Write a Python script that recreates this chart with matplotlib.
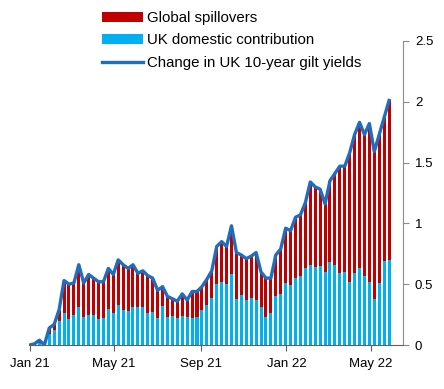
import numpy as np
import pandas as pd
import matplotlib
matplotlib.use('Agg')
import matplotlib.pyplot as plt
import matplotlib.dates as mdates

plt.rcParams['font.family'] = ['Liberation Sans', 'DejaVu Sans']

# weekly observations, first week of Jan 21 to end of May 22
dates = pd.date_range('2021-01-01', periods=74, freq='7D')

# UK domestic contribution (pp)
domestic = [0.00, 0.00, 0.02, 0.00, 0.09, 0.12, 0.20, 0.26, 0.21, 0.25,
            0.31, 0.23, 0.25, 0.25, 0.21, 0.22, 0.30, 0.26, 0.33, 0.29,
            0.28, 0.31, 0.31, 0.31, 0.26, 0.27, 0.22, 0.32, 0.23, 0.24,
            0.22, 0.24, 0.23, 0.22, 0.23, 0.29, 0.33, 0.39, 0.50, 0.52,
            0.50, 0.58, 0.38, 0.41, 0.37, 0.39, 0.37, 0.31, 0.23, 0.26,
            0.40, 0.42, 0.51, 0.49, 0.55, 0.57, 0.63, 0.66, 0.64, 0.65,
            0.60, 0.68, 0.66, 0.59, 0.60, 0.52, 0.59, 0.63, 0.57, 0.52,
            0.38, 0.51, 0.69, 0.70]

# global spillovers (pp)
spillovers = [0.00, 0.01, 0.02, 0.00, 0.05, 0.05, 0.09, 0.27, 0.29, 0.26,
              0.35, 0.28, 0.33, 0.30, 0.31, 0.30, 0.33, 0.32, 0.37, 0.37,
              0.35, 0.35, 0.28, 0.30, 0.31, 0.28, 0.23, 0.16, 0.17, 0.14,
              0.14, 0.18, 0.14, 0.22, 0.21, 0.19, 0.21, 0.22, 0.31, 0.33,
              0.31, 0.40, 0.38, 0.33, 0.34, 0.34, 0.39, 0.29, 0.32, 0.29,
              0.34, 0.37, 0.45, 0.45, 0.50, 0.50, 0.54, 0.68, 0.66, 0.63,
              0.56, 0.67, 0.75, 0.88, 0.87, 1.06, 1.14, 1.20, 1.16, 1.30,
              1.21, 1.22, 1.18, 1.31]

# change in UK 10-year gilt yields since start of 2021 (pp)
gilt_change = [0.00, 0.01, 0.04, 0.00, 0.14, 0.17, 0.29, 0.53, 0.50, 0.51,
               0.66, 0.51, 0.58, 0.55, 0.52, 0.52, 0.63, 0.58, 0.70, 0.66,
               0.63, 0.66, 0.59, 0.61, 0.57, 0.55, 0.45, 0.48, 0.40, 0.38,
               0.36, 0.42, 0.37, 0.44, 0.44, 0.48, 0.54, 0.61, 0.81, 0.85,
               0.81, 0.98, 0.76, 0.74, 0.71, 0.73, 0.76, 0.60, 0.55, 0.55,
               0.74, 0.79, 0.96, 0.94, 1.05, 1.07, 1.17, 1.34, 1.30, 1.28,
               1.16, 1.35, 1.41, 1.47, 1.47, 1.58, 1.73, 1.83, 1.73, 1.82,
               1.59, 1.73, 1.87, 2.01]

tick_dates = pd.to_datetime(['2021-01-01', '2021-05-01', '2021-09-01',
                             '2022-01-01', '2022-05-01'])
tick_labels = ['Jan 21', 'May 21', 'Sep 21', 'Jan 22', 'May 22']

red = '#C00000'
light_blue = '#00B0F0'
dark_blue = '#1F6EBE'
grey = '#8C8C8C'

fig = plt.figure(figsize=(4.44, 3.89), dpi=100)
ax = fig.add_axes([0.065, 0.113, 0.843, 0.782])

b_dom = ax.bar(dates, domestic, width=4.3, color=light_blue)
b_glob = ax.bar(dates, spillovers, width=4.3, bottom=domestic, color=red)
ln, = ax.plot(dates, gilt_change, color=dark_blue, lw=2.4)

ax.set_xlim(pd.Timestamp('2020-12-31'), pd.Timestamp('2022-06-16'))
ax.set_ylim(0, 2.5)
ax.set_xticks(tick_dates)
ax.set_xticklabels(tick_labels)
ax.set_yticks([0, 0.5, 1, 1.5, 2, 2.5])
ax.set_yticklabels(['0', '0.5', '1', '1.5', '2', '2.5'])

ax.yaxis.tick_right()
for s in ['left', 'top']:
    ax.spines[s].set_visible(False)
ax.spines['right'].set_color(grey)
ax.spines['bottom'].set_color('#606060')
ax.tick_params(axis='y', direction='out', length=4, color=grey,
               labelsize=9.5, pad=4.5)
ax.tick_params(axis='x', direction='out', length=4, color='#606060',
               labelsize=9.5, pad=5)

# legend sits above the plot area
fig.legend([b_glob, b_dom, ln],
           ['Global spillovers', 'UK domestic contribution',
            'Change in UK 10-year gilt yields'],
           loc='upper left', bbox_to_anchor=(0.200, 1.007), frameon=False,
           fontsize=10.8, handlelength=2.7, handleheight=0.65,
           handletextpad=0.25, labelspacing=0.57)

fig.savefig('out.png', dpi=100)
